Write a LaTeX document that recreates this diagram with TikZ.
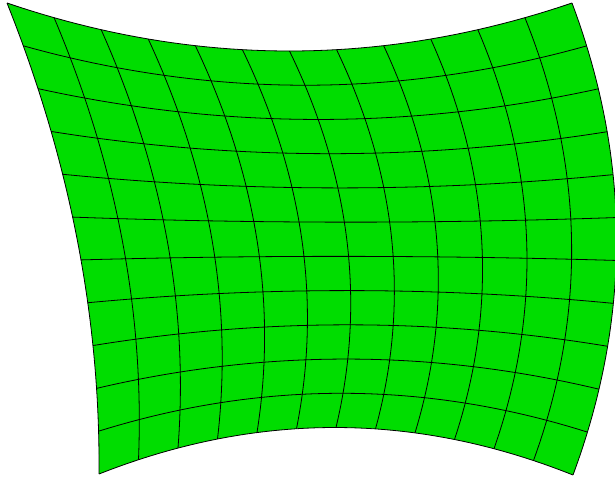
\documentclass[tikz,border=0pt]{standalone}
\definecolor{meshgreen}{RGB}{0,221,0}
\begin{document}
\begin{tikzpicture}[x=1pt,y=-1pt,
  declare function={
    WX(\uu,\vv)=7+565*\uu+92*\vv-91*\uu*\vv+\vv*(1-\vv)*(96+80*\uu);
    WY(\uu,\vv)=3+471*\vv+\uu*\vv+\uu*(1-\uu)*(192-380*\vv);
  },
  gridline/.style={draw=black, line width=0.8pt, line join=round},
]
\useasboundingbox (0,0) rectangle (615,480);
\clip (0,0) rectangle (615,480);
\fill[meshgreen]
  plot[domain=0:1,samples=49,variable=\t] ({WX(\t,0)},{WY(\t,0)})
  -- plot[domain=0:1,samples=49,variable=\t] ({WX(1,\t)},{WY(1,\t)})
  -- plot[domain=1:0,samples=49,variable=\t] ({WX(\t,1)},{WY(\t,1)})
  -- plot[domain=1:0,samples=49,variable=\t] ({WX(0,\t)},{WY(0,\t)})
  -- cycle;
\foreach \i in {0,...,11}
  \draw[gridline] plot[domain=0:1,samples=49,variable=\t] ({WX(\t,\i/11)},{WY(\t,\i/11)});
\foreach \j in {0,...,12}
  \draw[gridline] plot[domain=0:1,samples=49,variable=\t] ({WX(\j/12,\t)},{WY(\j/12,\t)});
\end{tikzpicture}
\end{document}
